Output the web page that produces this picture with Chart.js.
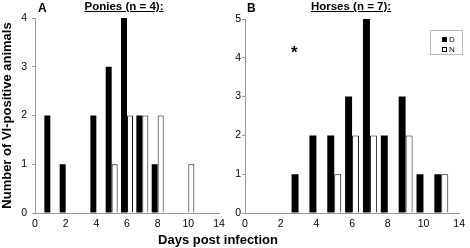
<!DOCTYPE html>
<html>
<head>
<meta charset="utf-8">
<script src="https://cdn.jsdelivr.net/npm/chart.js@4/dist/chart.umd.min.js"></script>
<style>
  body { margin: 0; background: #fff; font-family: "Liberation Sans", Arial, sans-serif; }
  #wrap { position: relative; width: 470px; height: 248px; overflow: hidden; }
  canvas { position: absolute; top: 0; }
  .lbl { position: absolute; font-weight: bold; color: #000; white-space: nowrap; }
  .ttl { text-decoration: underline; font-size: 11.5px; line-height: 13px; top: 0; transform: translateX(-50%); }
  #legend { position: absolute; left: 430px; top: 30px; width: 31px; height: 23px; border: 1px solid #bbb; font-size: 8px; }
  #legend div { position: absolute; left: 11px; line-height: 8px; }
  #legend span { display: inline-block; width: 5px; height: 5px; margin-right: 2px; vertical-align: 0; box-sizing: border-box; }
</style>
</head>
<body>
<div id="wrap">
  <canvas id="chartA" width="235" height="248" style="left:0"></canvas>
  <canvas id="chartB" width="235" height="248" style="left:235px"></canvas>
  <div class="lbl" style="left:38px;top:1px;font-size:12px">A</div>
  <div class="lbl ttl" style="left:124px">Ponies (n = 4):</div>
  <div class="lbl" style="left:247px;top:1px;font-size:12px">B</div>
  <div class="lbl ttl" style="left:351px">Horses (n = 7):</div>
  <div class="lbl" style="left:291px;top:43px;font-size:17px">*</div>
  <div class="lbl" style="left:218px;top:232px;font-size:13px;transform:translateX(-50%)">Days post infection</div>
  <div id="legend">
    <div style="top:5px"><span style="background:#000"></span>D</div>
    <div style="top:15px"><span style="background:#fff;border:1px solid #000"></span>N</div>
  </div>
</div>
<script>
const days = ["0", "1", "2", "3", "4", "5", "6", "7", "8", "9", "10", "11", "12"];
const tickLabels = ["0", "", "2", "", "4", "", "6", "", "8", "", "10", "", "14"];

const poniesD = [null, 2, 1, null, 2, 3, 4, 2, 1, null, null, null, null];
const poniesN = [null, null, null, null, null, 1, 2, 2, 2, null, 1, null, null];
const horsesD = [null, null, null, 1, 2, 2, 3, 5, 2, 3, 1, 1, null];
const horsesN = [null, null, null, null, null, 1, 2, 2, null, 2, null, 1, null];

Chart.defaults.font.family = "'Liberation Sans', Arial, sans-serif";
Chart.defaults.color = "#000";

function makeChart(id, dData, nData, yMax, yAxisWidth, yPad, yTitle, pad) {
  const ctx = document.getElementById(id).getContext("2d");
  return new Chart(ctx, {
    type: "bar",
    data: {
      labels: days,
      datasets: [
        {
          label: "D",
          data: dData,
          backgroundColor: "#000",
          borderWidth: 0,
          categoryPercentage: 0.78,
          barPercentage: 1,
        },
        {
          label: "N",
          data: nData,
          backgroundColor: "#fff",
          borderColor: "#111",
          borderWidth: 1,
          categoryPercentage: 0.78,
          barPercentage: 1,
        },
      ],
    },
    options: {
      responsive: false,
      animation: false,
      layout: { padding: pad },
      plugins: { legend: { display: false }, tooltip: { enabled: false } },
      scales: {
        x: {
          offset: false,
          grid: { display: false, drawTicks: false },
          border: { color: "#999" },
          ticks: {
            autoSkip: false,
            maxRotation: 0,
            padding: 5,
            font: { size: 10.5 },
            callback: (v, i) => tickLabels[i],
          },
          afterFit: (s) => { s.height = 35; },
        },
        y: {
          min: 0,
          max: yMax,
          grid: { drawOnChartArea: false, tickLength: 3, color: "#999" },
          border: { color: "#999" },
          ticks: { stepSize: 1, padding: yPad, font: { size: 10.5 } },
          title: {
            display: !!yTitle,
            text: yTitle,
            font: { size: 13, weight: "bold" },
            padding: { top: 0, bottom: 0 },
          },
          afterFit: (s) => { s.width = yAxisWidth; },
        },
      },
    },
  });
}

makeChart("chartA", poniesD, poniesN, 4, 35, 5, "Number of VI-positive animals", { top: 18, right: 16, left: 0, bottom: 0 });
makeChart("chartB", horsesD, horsesN, 5, 10, 1, "", { top: 19, right: 8, left: 0, bottom: 0 });
</script>
</body>
</html>
